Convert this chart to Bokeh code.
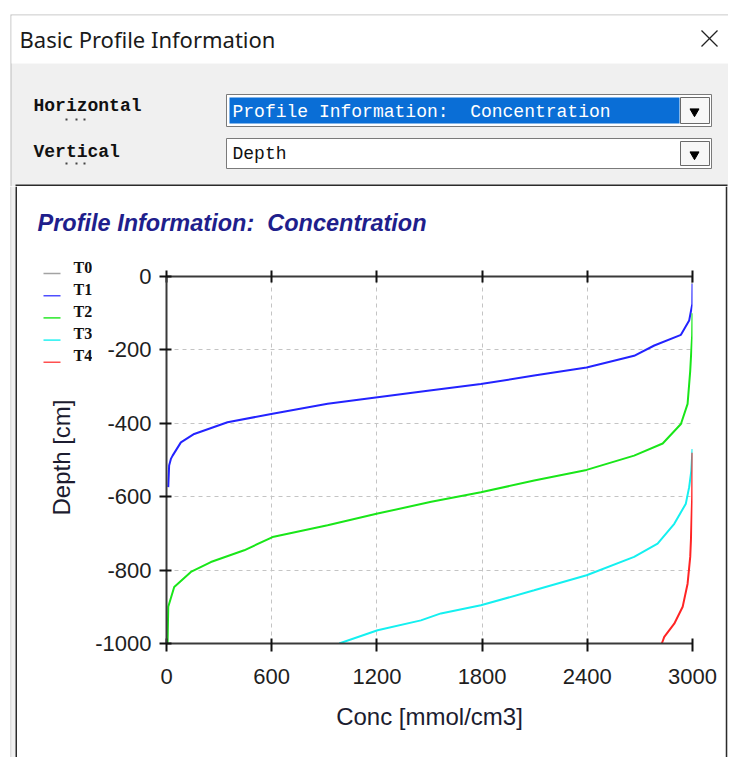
import math
from bokeh.plotting import figure
from bokeh.models import Range1d, FixedTicker, LinearAxis
from bokeh.layouts import column, row
from bokeh.embed import file_html
from bokeh.resources import INLINE
from bokeh.core.properties import value

# ---------------- data ----------------
series_names = ["T0", "T1", "T2", "T3", "T4"]
series_colors = ["#8c8c8c", "#2323ff", "#19e619", "#14f0f0", "#ff2424"]

t0_conc = [3000, 3000]
t0_depth = [0, -20]

t1_conc = [3000, 2999, 2981, 2934, 2782, 2667, 2396, 2097, 1793, 1490, 1204, 919, 605, 348, 158, 82, 35, 25, 15, 10]
t1_depth = [-20, -75, -120, -159, -188, -216, -248, -270, -293, -311, -329, -347, -374, -397, -429, -452, -488, -497, -515, -574]

t2_conc = [3000, 2998, 2987, 2972, 2934, 2830, 2667, 2396, 2097, 1793, 1510, 1204, 919, 605, 443, 253, 139, 44, 10, 6]
t2_depth = [-100, -160, -257, -347, -402, -455, -488, -527, -556, -588, -614, -646, -678, -710, -746, -778, -805, -846, -900, -1000]

t3_conc = [3000, 2993, 2981, 2962, 2896, 2801, 2667, 2396, 2097, 1793, 1565, 1451, 1204, 985]
t3_depth = [-470, -530, -574, -619, -674, -728, -764, -814, -855, -896, -918, -937, -964, -1000]

t4_conc = [3000, 2998, 2991, 2987, 2972, 2944, 2896, 2839, 2825]
t4_depth = [-480, -600, -719, -764, -837, -900, -946, -982, -1000]

x_ticks = [0, 600, 1200, 1800, 2400, 3000]
y_ticks = [0, -200, -400, -600, -800, -1000]

window_title = "Basic Profile Information"
field_labels = ["Horizontal", "Vertical"]
field_values = ["Profile Information: \u00a0Concentration", "Depth"]
chart_title = "Profile Information: \u00a0Concentration"
x_label = "Conc [mmol/cm3]"
y_label = "Depth [cm]"

DLG = "#f0f0f0"
EDGE = "#bdbdbd"
DARK = "#2b2b2b"


def canvas(w, h, x0, x1, y_top, y_bottom):
    f = figure(width=w, height=h, x_range=Range1d(x0, x1), y_range=Range1d(y_bottom, y_top),
               x_axis_type=None, y_axis_type=None, toolbar_location=None,
               output_backend="svg", min_border=0, outline_line_color=None,
               background_fill_color="white", border_fill_color="white")
    f.frame_align = False
    return f


# ---------------- header (dialog chrome) ----------------
hdr = canvas(728, 186, 0, 728, 0, 186)
hdr.quad(left=[10], right=[728], top=[14], bottom=[186], fill_color=EDGE, line_color=None)
hdr.quad(left=[11], right=[728], top=[15], bottom=[186], fill_color=DLG, line_color=None)
hdr.quad(left=[11], right=[728], top=[15], bottom=[63], fill_color="white", line_color=None)
hdr.quad(left=[15], right=[727], top=[184], bottom=[186], fill_color=DARK, line_color=None)

hdr.text(x=[19], y=[38], text=[window_title], text_font=value("Noto Sans"),
         text_font_size=value("22px"), text_color="#1a1a1a", text_baseline="middle", text_align="left")
hdr.segment(x0=[701, 717], y0=[30, 30], x1=[717, 701], y1=[46, 46], line_color="#222222", line_width=1.3)

hdr.quad(left=[226, 226], right=[711, 711], top=[94, 138], bottom=[126, 168],
         fill_color="white", line_color="#7a7a7a", line_width=1)
hdr.quad(left=[229], right=[679], top=[97], bottom=[123], fill_color="#0a6ed6", line_color=None)
hdr.quad(left=[680, 680], right=[709, 709], top=[97, 141], bottom=[123, 165],
         fill_color="#f7f7f7", line_color="#6a6a6a", line_width=1)
hdr.scatter(x=[694, 694], y=[111, 154], marker="inverted_triangle", size=9,
            fill_color="black", line_color="black")

hdr.text(x=[33, 33], y=[105, 151], text=field_labels, text_font=value("Liberation Mono"),
         text_font_size=value("18px"), text_font_style="bold", text_color="#111111",
         text_baseline="middle", text_align="left")
hdr.scatter(x=[66, 76, 84, 66, 76, 84], y=[119, 119, 119, 163, 163, 163], marker="square", size=2,
            fill_color="#444444", line_color=None)
hdr.text(x=[232], y=[111], text=[field_values[0]], text_font=value("Liberation Mono"),
         text_font_size=value("18px"), text_color="white", text_baseline="middle", text_align="left")
hdr.text(x=[232], y=[153], text=[field_values[1]], text_font=value("Liberation Mono"),
         text_font_size=value("18px"), text_color="#111111", text_baseline="middle", text_align="left")

# ---------------- side / bottom strips ----------------
ls = canvas(17, 571, 0, 17, 186, 757)
ls.quad(left=[10, 11, 15], right=[11, 15, 17], top=[186, 186, 186], bottom=[757, 757, 757],
        fill_color=[EDGE, DLG, DARK], line_color=None)

rs = canvas(3, 571, 725, 728, 186, 757)
rs.quad(left=[725, 727], right=[727, 728], top=[186, 186], bottom=[757, 757],
        fill_color=[DARK, DLG], line_color=None)

bs = canvas(728, 5, 0, 728, 757, 762)
bs.quad(left=[10, 11, 15], right=[11, 15, 727], top=[757, 757, 757], bottom=[762, 762, 760],
        fill_color=[EDGE, DLG, DARK], line_color=None)

# ---------------- chart title ----------------
tf = canvas(708, 64, 17, 725, 186, 250)
tf.text(x=[37], y=[222], text=[chart_title], text_font=value("Liberation Sans"),
        text_font_style="bold italic", text_font_size=value("23.5px"), text_color="#1f1f8c",
        text_baseline="middle", text_align="left")

# ---------------- legend + y label column ----------------
LW = 75
lf = canvas(LW, 507, 17, 17 + LW, 250, 757)
n = len(series_names)
swatch_y = [273 + 22.2 * i for i in range(n)]
label_y = [267 + 22.1 * i for i in range(n)]
lf.segment(x0=[43] * n, x1=[60] * n, y0=swatch_y, y1=swatch_y, line_color=series_colors,
           line_width=1.6, line_alpha=0.8)
lf.text(x=[73] * n, y=label_y, text=series_names, text_font=value("Liberation Serif"),
        text_font_style="bold", text_font_size=value("16px"), text_color="#111111",
        text_baseline="middle", text_align="left")
lf.text(x=[61], y=[457], text=[y_label], angle=math.pi / 2, text_font=value("Liberation Sans"),
        text_font_size=value("24px"), text_color="#1c1c30", text_baseline="middle", text_align="center")

# ---------------- chart ----------------
CW = 725 - 17 - LW
ch = figure(width=CW, height=507, x_range=Range1d(0, 3000), y_range=Range1d(-1000, 0),
            toolbar_location=None, output_backend="svg", title=None,
            min_border_left=74, min_border_right=33, min_border_top=26, min_border_bottom=114,
            background_fill_color="white", border_fill_color="white", outline_line_color=None)
ch.frame_align = False

AX_FONT = "Liberation Sans"
for ax in (ch.xaxis[0], ch.yaxis[0]):
    ax.axis_line_color = "#3a3a3a"
    ax.axis_line_width = 2
    ax.major_tick_line_color = "#111111"
    ax.major_tick_line_width = 2
    ax.minor_tick_line_color = None
    ax.major_label_text_font = AX_FONT
    ax.major_label_text_font_size = "22px"
    ax.major_label_text_color = "#1e1e1e"

ch.xaxis.ticker = FixedTicker(ticks=x_ticks)
ch.yaxis.ticker = FixedTicker(ticks=y_ticks)
ch.yaxis.major_label_overrides = {t: str(t) for t in y_ticks}
ch.xaxis.major_tick_in = 5
ch.xaxis.major_tick_out = 8
ch.xaxis.major_label_standoff = 17
ch.xaxis.axis_label = x_label
ch.xaxis.axis_label_standoff = 16
ch.xaxis.axis_label_text_font = AX_FONT
ch.xaxis.axis_label_text_font_size = "24px"
ch.xaxis.axis_label_text_font_style = "normal"
ch.xaxis.axis_label_text_color = "#1c1c30"
ch.yaxis.major_tick_in = 5
ch.yaxis.major_tick_out = 7
ch.yaxis.major_label_standoff = 8

top_axis = LinearAxis(ticker=FixedTicker(ticks=x_ticks), axis_line_color="#3a3a3a", axis_line_width=2,
                      major_tick_line_color="#111111", major_tick_line_width=2,
                      major_tick_in=6, major_tick_out=6, minor_tick_line_color=None,
                      major_label_overrides={t: "" for t in x_ticks})
ch.add_layout(top_axis, "above")

ch.xgrid.ticker = FixedTicker(ticks=x_ticks)
ch.ygrid.ticker = FixedTicker(ticks=y_ticks)
ch.grid.grid_line_color = "#c4c4c4"
ch.grid.grid_line_dash = "4 4"
ch.grid.grid_line_width = 1

series = [(t0_conc, t0_depth), (t1_conc, t1_depth), (t2_conc, t2_depth),
          (t3_conc, t3_depth), (t4_conc, t4_depth)]
for (xs, ys), col, name in zip(series, series_colors, series_names):
    ch.line(xs, ys, line_color=col, line_width=2, name=name)

layout = column(hdr, row(ls, column(tf, row(lf, ch)), rs), bs)

with open("out.html", "w") as f:
    f.write(file_html(layout, INLINE))
